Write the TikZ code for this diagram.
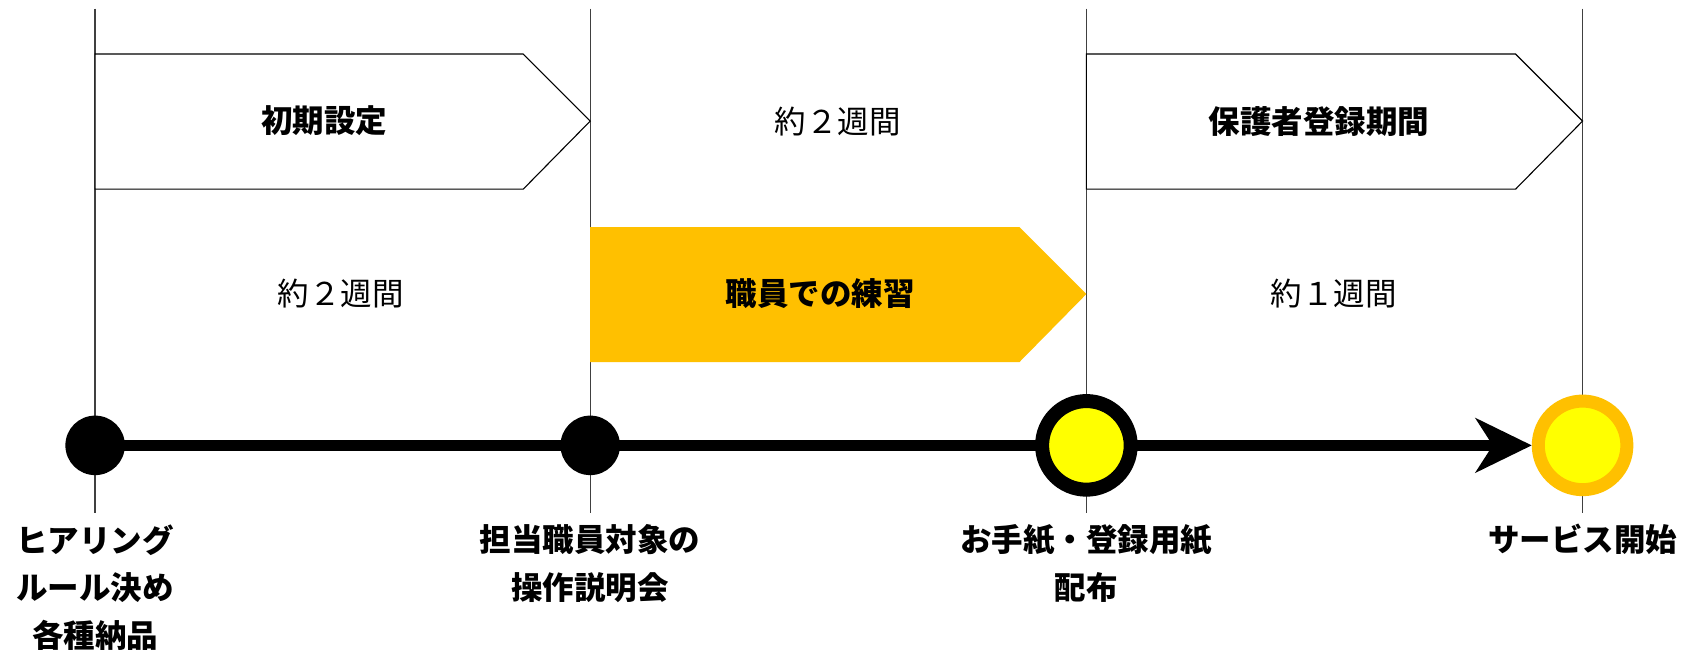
\documentclass[tikz,border=0pt]{standalone}
\usepackage{fontspec}
\setmainfont{Noto Sans CJK JP}
\usetikzlibrary{arrows.meta}
\pgfdeclarelayer{bg}
\pgfsetlayers{bg,main}
\definecolor{yellowfill}{RGB}{255,192,0}
\definecolor{pureyellow}{RGB}{255,255,0}
\tikzset{
  vline/.style={draw=black!75, line width=1.4pt},
  phasebox/.style={draw=black, line width=1.1pt, fill=white},
  phaseyel/.style={fill=yellowfill, draw=none},
  boldtxt/.style={font=\fontsize{31.5}{47.6}\selectfont\bfseries, inner sep=0pt, align=center},
  regtxt/.style={font=\fontsize{31.5}{47.6}\selectfont, inner sep=0pt},
  blackdot/.style={circle, fill=black, minimum size=59.5pt, inner sep=0pt},
  ringdot/.style={circle, fill=pureyellow, draw=black, line width=14pt, minimum size=88.6pt, inner sep=0pt},
  enddot/.style={circle, fill=pureyellow, draw=yellowfill, line width=13pt, minimum size=88.6pt, inner sep=0pt},
  timeline/.style={line width=10.8pt, -{Stealth[length=56pt, width=54pt, inset=17pt]}}
}
\begin{document}
\begin{tikzpicture}[x=1.081pt, y=-1.081pt]
\useasboundingbox (0,0) rectangle (1568,602.2);
% vertical guide lines
\coordinate (t1) at (88,8);   \coordinate (b1) at (88,475);
\coordinate (t2) at (546,8);  \coordinate (b2) at (546,475);
\coordinate (t3) at (1005,8); \coordinate (b3) at (1005,475);
\coordinate (t4) at (1464,8); \coordinate (b4) at (1464,475);
\draw[vline] (t1) -- (b1);
\draw[vline] (t2) -- (b2);
\draw[vline] (t3) -- (b3);
\draw[vline] (t4) -- (b4);
% phase arrows
\draw[phasebox] (88,50) -- (484,50) -- (546,112) -- (484,175) -- (88,175) -- cycle;
\node[boldtxt] (p1) at (300,112) {初期設定};
\draw[phasebox] (1005,50) -- (1402,50) -- (1464,112) -- (1402,175) -- (1005,175) -- cycle;
\node[boldtxt] (p3) at (1220,112) {保護者登録期間};
\fill[phaseyel] (546,210) -- (943,210) -- (1005,272) -- (943,335) -- (546,335) -- cycle;
\node[boldtxt] (p2) at (759,272) {職員での練習};
% durations
\node[regtxt] (d1) at (315,272) {約２週間};
\node[regtxt] (d2) at (775,112) {約２週間};
\node[regtxt] (d3) at (1234,272) {約１週間};
% milestones
\node[blackdot] (m1) at (88,412) {};
\node[blackdot] (m2) at (546,412) {};
\node[ringdot] (m3) at (1005,412) {};
\node[enddot] (m4) at (1464,412) {};
\begin{pgfonlayer}{bg}
\draw[timeline] (m1.center) -- (m4.west);
\end{pgfonlayer}
% labels
\node[boldtxt, anchor=north] (l1) at (88,485) {ヒアリング\\ルール決め\\各種納品};
\node[boldtxt, anchor=north] (l2) at (546,485) {担当職員対象の\\操作説明会};
\node[boldtxt, anchor=north] (l3) at (1005,485) {お手紙・登録用紙\\配布};
\node[boldtxt, anchor=north] (l4) at (1464,485) {サービス開始};
\end{tikzpicture}
\end{document}
